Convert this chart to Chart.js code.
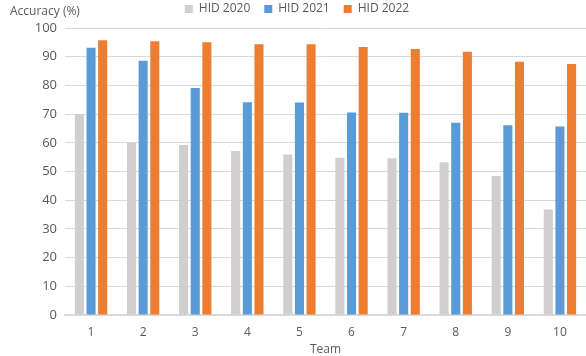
<!DOCTYPE html>
<html>
<head>
<meta charset="utf-8">
<script src="https://cdn.jsdelivr.net/npm/chart.js@4/dist/chart.umd.min.js"></script>
<style>
  html, body { margin: 0; padding: 0; background: #fff; }
  #wrap { width: 586px; height: 356px; }
</style>
</head>
<body>
<div id="wrap"><canvas id="chart"></canvas></div>
<script>
// data
const teams = ["1", "2", "3", "4", "5", "6", "7", "8", "9", "10"];
const hid2020 = [70.0, 60.0, 59.2, 57.1, 55.9, 54.8, 54.6, 53.2, 48.4, 36.8];
const hid2021 = [93.1, 88.6, 79.1, 74.1, 74.0, 70.6, 70.5, 67.0, 66.1, 65.7];
const hid2022 = [95.7, 95.4, 95.0, 94.3, 94.3, 93.4, 92.7, 91.7, 88.2, 87.5];

const textColor = "#595959";
const fontFamily = "'Open Sans', 'Noto Sans', sans-serif";

// "Accuracy (%)" sits at the top left, above the y axis
const yTitle = {
    id: "yTitle",
    afterDraw(c) {
        const ctx = c.ctx;
        ctx.save();
        ctx.font = "12px " + fontFamily;
        ctx.fillStyle = textColor;
        ctx.textBaseline = "middle";
        ctx.textAlign = "left";
        ctx.fillText("Accuracy (%)", 10, 12);
        ctx.restore();
    }
};

// legend needs wide gaps between items but sits high up, so nudge it after layout
const legendNudge = {
    id: "legendNudge",
    afterLayout(c) {
        const lg = c.legend;
        if (!lg) return;
        lg.top -= 11; lg.bottom -= 11;
        lg.left += 4; lg.right += 4;
    }
};

const chart = new Chart(document.getElementById("chart"), {
    type: "bar",
    data: {
        labels: teams,
        datasets: [
            { label: "HID 2020", data: hid2020, backgroundColor: "#d0cece" },
            { label: "HID 2021", data: hid2021, backgroundColor: "#5b9bd5" },
            { label: "HID 2022", data: hid2022, backgroundColor: "#ed7d31" }
        ]
    },
    options: {
        responsive: true,
        maintainAspectRatio: false,
        animation: false,
        datasets: {
            bar: { categoryPercentage: 0.67, barPercentage: 0.78 }
        },
        plugins: {
            legend: {
                position: "top",
                maxHeight: 28,
                labels: {
                    boxWidth: 8,
                    boxHeight: 8,
                    padding: 14,
                    color: textColor,
                    font: { size: 12, family: fontFamily }
                }
            },
            tooltip: { enabled: false }
        },
        scales: {
            x: {
                afterFit: s => { s.height = 41; },
                grid: { display: false, drawTicks: false },
                border: { color: "#d9d9d9", width: 1.5 },
                ticks: { color: textColor, padding: 10, font: { size: 12, family: fontFamily } },
                title: {
                    display: true,
                    text: "Team",
                    color: textColor,
                    padding: { top: 0, bottom: -1 },
                    font: { size: 12, family: fontFamily }
                }
            },
            y: {
                min: 0,
                max: 100,
                afterFit: s => { s.width = 65; },
                grid: { color: "#d9d9d9", drawTicks: false },
                border: { display: false },
                ticks: { stepSize: 10, color: textColor, padding: 8, font: { size: 13, family: fontFamily } }
            }
        }
    },
    plugins: [yTitle, legendNudge]
});
</script>
</body>
</html>
